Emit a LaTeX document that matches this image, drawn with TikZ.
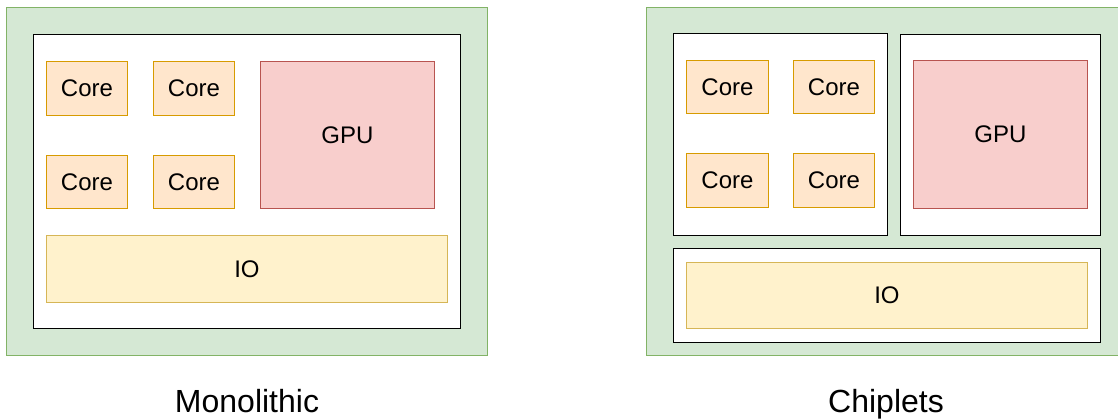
\documentclass[tikz,border=0pt]{standalone}
\usepackage{fontspec}
\setmainfont{Liberation Sans}
\definecolor{pkgfill}{HTML}{D5E8D4}
\definecolor{pkgline}{HTML}{82B366}
\definecolor{corefill}{HTML}{FFE6CC}
\definecolor{coreline}{HTML}{D79B00}
\definecolor{gpufill}{HTML}{F8CECC}
\definecolor{gpuline}{HTML}{B85450}
\definecolor{iofill}{HTML}{FFF2CC}
\definecolor{ioline}{HTML}{D6B656}
\tikzset{
  pkg/.style={fill=pkgfill, draw=pkgline, line width=0.8pt},
  die/.style={fill=white, draw=black, line width=1.2pt},
  block/.style={line width=0.9pt, font=\fontsize{24}{26}\selectfont},
  corebox/.style={block, fill=corefill, draw=coreline},
  gpubox/.style={block, fill=gpufill, draw=gpuline},
  iobox/.style={block, fill=iofill, draw=ioline},
  caption/.style={font=\fontsize{32}{34}\selectfont, anchor=base}
}
% rectangle from corner (x1,y1) to (x2,y2), in pixel units, y measured downward
\newcommand{\blk}[6]{%
  \node[#1, minimum width=#5-#3, minimum height=#6-#4, inner sep=0pt, anchor=north west]
    (#2) at (#3,-#4) {};}
\begin{document}
\begin{tikzpicture}[x=1pt,y=1pt]
\useasboundingbox[fill=white] (0,0) rectangle (1118,-418);

% ---------- monolithic die ----------
\blk{pkg}{mpkg}{6}{7}{487}{355}
\blk{die}{mdie}{33}{34}{460}{328}
\blk{corebox}{mc1}{46}{61}{127}{115}
\blk{corebox}{mc2}{153}{61}{234}{115}
\blk{corebox}{mc3}{46}{155}{127}{208}
\blk{corebox}{mc4}{153}{155}{234}{208}
\blk{gpubox}{mgpu}{260}{61}{434}{208}
\blk{iobox}{mio}{46}{235}{447}{302}
\foreach \n in {mc1,mc2,mc3,mc4}
  \node[block] at (\n.center) {Core};
\node[block] at (mgpu.center) {GPU};
\node[block] at (mio.center) {IO};

% ---------- chiplet package ----------
\blk{pkg}{cpkg}{646}{7}{1118}{355}
\blk{die}{ccpu}{673}{33}{887}{235}
\blk{die}{cgpudie}{900}{34}{1100}{235}
\blk{die}{ciodie}{673}{248}{1100}{342}
\blk{corebox}{cc1}{686}{60}{768}{113}
\blk{corebox}{cc2}{793}{60}{874}{113}
\blk{corebox}{cc3}{686}{153}{768}{207}
\blk{corebox}{cc4}{793}{153}{874}{207}
\blk{gpubox}{cgpu}{913}{60}{1087}{208}
\blk{iobox}{cio}{686}{262}{1087}{328}
\foreach \n in {cc1,cc2,cc3,cc4}
  \node[block] at (\n.center) {Core};
\node[block] at (cgpu.center) {GPU};
\node[block] at (cio.center) {IO};

% ---------- captions ----------
\node[caption] (capm) at (247,-412) {Monolithic};
\node[caption] (capc) at (886,-412) {Chiplets};
\end{tikzpicture}
\end{document}
